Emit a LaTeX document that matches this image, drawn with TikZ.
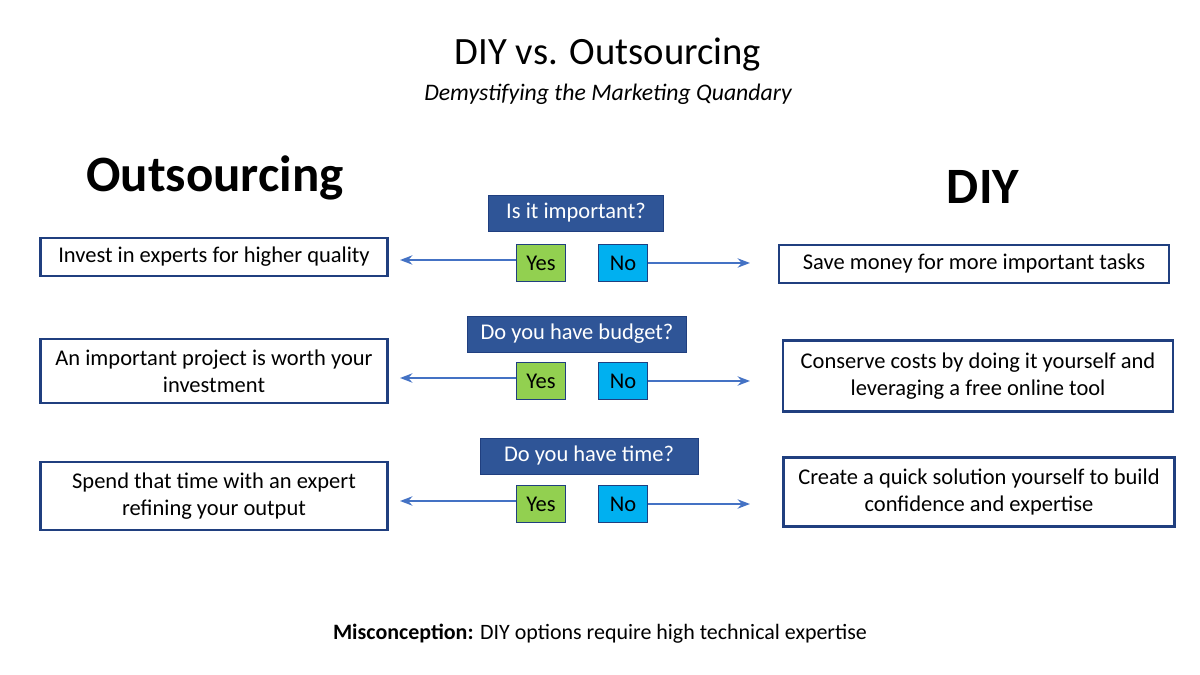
\documentclass[tikz,border=0pt]{standalone}
\usepackage{fontspec}
\setmainfont{Carlito}
\usetikzlibrary{arrows.meta}

\definecolor{boxblue}{HTML}{203F7F}
\definecolor{qblue}{HTML}{2F5597}
\definecolor{yesgreen}{HTML}{92D050}
\definecolor{nocyan}{HTML}{00B0F0}
\definecolor{arrowblue}{HTML}{4472C4}

\tikzset{
  answer/.style={draw=boxblue, line width=1.6pt, align=center, font=\fontsize{12.8}{15.5}\selectfont},
  question/.style={draw=boxblue, fill=qblue, text=white, font=\fontsize{12.8}{15.5}\selectfont, minimum height=0.72cm},
  yes/.style={draw=boxblue, fill=yesgreen, minimum width=0.98cm, minimum height=0.74cm, font=\fontsize{12.8}{15.5}\selectfont},
  no/.style={draw=boxblue, fill=nocyan, minimum width=0.98cm, minimum height=0.74cm, font=\fontsize{12.8}{15.5}\selectfont},
  link/.style={draw=arrowblue, line width=1.6pt, -{Stealth[length=7pt]}}
}

\begin{document}
\begin{tikzpicture}[x=0.02cm, y=-0.02cm]
    \useasboundingbox (0, 0) rectangle (1200, 675);

    \node (title) at (608, 55) {\fontsize{22}{26}\selectfont DIY vs. Outsourcing};
    \node (subtitle) at (608, 94) {\fontsize{13.5}{16}\selectfont\itshape Demystifying the Marketing Quandary};
    \node (Out) at (215, 178) {\fontsize{29}{34}\selectfont\bfseries Outsourcing};
    \node (Diy) at (983, 187) {\fontsize{29}{34}\selectfont\bfseries DIY};

    % question 1
    \node[question, minimum width=3.5cm] (Q1) at (576, 213) {Is it important?};
    \node[yes] (Yes1) at (541, 263) {Yes};
    \node[no] (No1) at (623, 263) {No};
    \node[answer, minimum width=6.94cm, minimum height=0.76cm] (Left1) at (214, 257) {Invest in experts for higher quality};
    \node[answer, minimum width=7.8cm, minimum height=0.76cm] (Right1) at (974, 264) {Save money for more important tasks};
    \coordinate (L1) at (400, 260);
    \coordinate (R1) at (750, 263);

    % question 2
    \node[question, minimum width=4.38cm] (Q2) at (577, 334) {Do you have budget?};
    \node[yes] (Yes2) at (541, 381) {Yes};
    \node[no] (No2) at (623, 381) {No};
    \node[answer, minimum width=6.94cm, minimum height=1.28cm] (Left2) at (214, 371) {An important project is worth your\\investment};
    \node[answer, minimum width=7.8cm, minimum height=1.42cm] (Right2) at (978, 376) {Conserve costs by doing it yourself and\\leveraging a free online tool};
    \coordinate (L2) at (400, 378);
    \coordinate (R2) at (750, 381);

    % question 3
    \node[question, minimum width=4.36cm] (Q3) at (589, 456) {Do you have time?};
    \node[yes] (Yes3) at (541, 504) {Yes};
    \node[no] (No3) at (623, 504) {No};
    \node[answer, minimum width=6.94cm, minimum height=1.36cm] (Left3) at (214, 496) {Spend that time with an expert\\refining your output};
    \node[answer, minimum width=7.82cm, minimum height=1.38cm] (Right3) at (979, 492) {Create a quick solution yourself to build\\confidence and expertise};
    \coordinate (L3) at (400, 501);
    \coordinate (R3) at (750, 504);

    \node (note) at (600, 634) {\fontsize{12.5}{15}\selectfont\textbf{Misconception:} DIY options require high technical expertise};

    \draw[link] (Yes1.west |- L1) -- (L1);
    \draw[link] (No1.east |- R1) -- (R1);
    \draw[link] (Yes2.west |- L2) -- (L2);
    \draw[link] (No2.east |- R2) -- (R2);
    \draw[link] (Yes3.west |- L3) -- (L3);
    \draw[link] (No3.east |- R3) -- (R3);
\end{tikzpicture}
\end{document}
